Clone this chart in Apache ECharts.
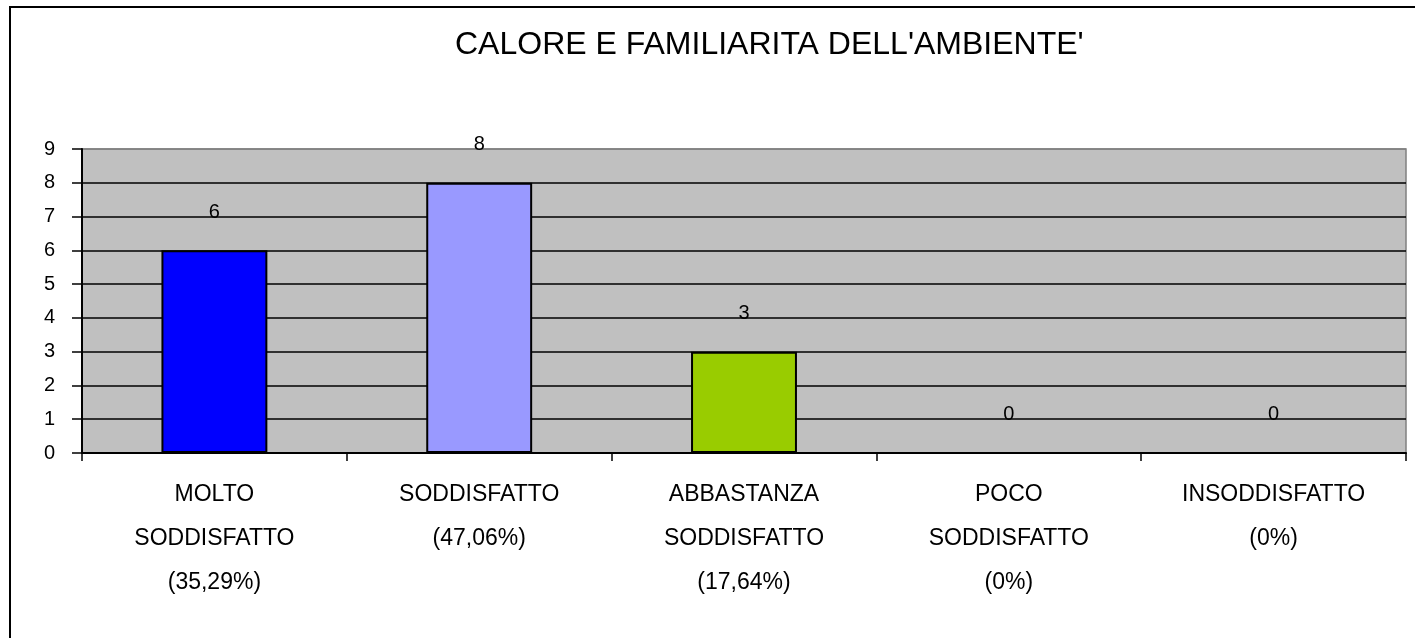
<!DOCTYPE html>
<html lang="it">
<head>
<meta charset="UTF-8">
<title>Calore e familiarità dell'ambiente</title>
<script src="https://cdn.jsdelivr.net/npm/echarts@6/dist/echarts.min.js"></script>
<style>
html, body { margin: 0; padding: 0; background: #fff; }
#chart { width: 1415px; height: 638px; }
</style>
</head>
<body>
<div id="chart"></div>
<script>
const titleText = "CALORE E FAMILIARITA DELL'AMBIENTE'";
const categories = [
  'MOLTO\nSODDISFATTO\n(35,29%)',
  'SODDISFATTO\n(47,06%)',
  'ABBASTANZA\nSODDISFATTO\n(17,64%)',
  'POCO\nSODDISFATTO\n(0%)',
  'INSODDISFATTO\n(0%)'
];
const values = [6, 8, 3, 0, 0];
const barColors = ['#0000FF', '#9999FF', '#99CC00', '#C0C0C0', '#C0C0C0'];
const yTicks = [0, 1, 2, 3, 4, 5, 6, 7, 8, 9];

const font = "'Liberation Sans', Arial, sans-serif";
const chart = echarts.init(document.getElementById('chart'));
chart.setOption({
  animation: false,
  backgroundColor: '#fff',
  title: {
    text: titleText,
    left: 455,
    top: 29,
    padding: 0,
    textStyle: { fontFamily: font, fontSize: 32, fontWeight: 'normal', color: '#000' }
  },
  graphic: [{
    type: 'rect',
    shape: { x: 10, y: 7, width: 1500, height: 800 },
    style: { fill: 'none', stroke: '#000', lineWidth: 2 },
    silent: true
  }],
  grid: {
    left: 82, right: 9, top: 149, bottom: 185,
    show: true,
    backgroundColor: '#C0C0C0',
    borderColor: '#808080',
    borderWidth: 1.5
  },
  xAxis: {
    type: 'category',
    data: categories,
    axisLine: { lineStyle: { color: '#000', width: 2 } },
    axisTick: { show: true, length: 8, interval: 0, lineStyle: { color: '#000', width: 1.5 } },
    axisLabel: {
      interval: 0, margin: 20, lineHeight: 44,
      fontFamily: font, fontSize: 23, color: '#000'
    }
  },
  yAxis: {
    type: 'value',
    min: yTicks[0],
    max: yTicks[yTicks.length - 1],
    interval: 1,
    axisLine: { show: true, lineStyle: { color: '#000', width: 2 } },
    axisTick: { show: true, length: 10, lineStyle: { color: '#000', width: 1.5 } },
    axisLabel: { margin: 27, fontFamily: font, fontSize: 20, color: '#000' },
    splitLine: {
      show: true,
      lineStyle: {
        color: yTicks.map((t, i) => i === yTicks.length - 1 ? '#808080' : '#000'),
        width: 1.5
      }
    }
  },
  series: [{
    type: 'bar',
    data: values.map((v, i) => ({ value: v, itemStyle: { color: barColors[i] } })),
    barWidth: '40%',
    itemStyle: { borderColor: '#000', borderWidth: 2 },
    label: {
      show: true, position: 'top', distance: 28,
      fontFamily: font, fontSize: 20, color: '#000'
    }
  }]
});
</script>
</body>
</html>
